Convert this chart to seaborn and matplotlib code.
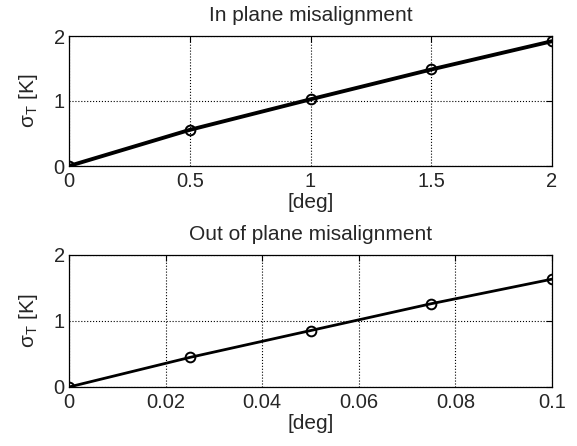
import numpy as np
import pandas as pd
import matplotlib
matplotlib.use("Agg")
import matplotlib.pyplot as plt
import seaborn as sb

# Values
x_in = [0.0, 0.5, 1.0, 1.5, 2.0]
y_in = [0.0, 0.556, 1.026, 1.485, 1.92]
x_out = [0.0, 0.025, 0.05, 0.075, 0.1]
y_out = [0.0, 0.448, 0.855, 1.262, 1.634]

titles = ["In plane misalignment", "Out of plane misalignment"]
xticks_in = [0, 0.5, 1, 1.5, 2]
xticklabels_in = ["0", "0.5", "1", "1.5", "2"]
xticks_out = [0, 0.02, 0.04, 0.06, 0.08, 0.1]
xticklabels_out = ["0", "0.02", "0.04", "0.06", "0.08", "0.1"]
yticks = [0, 1, 2]

sb.set_style("white")
plt.rcParams['font.family'] = ['Liberation Sans', 'DejaVu Sans']
plt.rcParams['mathtext.fontset'] = 'custom'
plt.rcParams['mathtext.rm'] = 'Liberation Sans'
plt.rcParams['mathtext.it'] = 'Liberation Sans'

W, H = 577, 446
fig = plt.figure(figsize=(W/100, H/100), dpi=100)
ax1 = fig.add_axes([69/W, 1 - 166/H, 483/W, 130/H])
ax2 = fig.add_axes([69/W, 1 - 387/H, 483/W, 132/H])

panels = [
    (ax1, x_in, y_in, titles[0], xticks_in, xticklabels_in, (0, 2), 2.8),
    (ax2, x_out, y_out, titles[1], xticks_out, xticklabels_out, (0, 0.1), 2.0),
]

for ax, xs, ys, title, xt, xtl, xlim, lw in panels:
    df = pd.DataFrame({"x": xs, "y": ys})
    sb.lineplot(data=df, x="x", y="y", ax=ax, color="black", linewidth=lw,
                marker="o", markersize=7, markerfacecolor="none",
                markeredgecolor="black", markeredgewidth=1.4)
    ax.set_xlim(*xlim)
    ax.set_ylim(0, 2)
    ax.set_xticks(xt)
    ax.set_xticklabels(xtl)
    ax.set_yticks(yticks)
    ax.set_yticklabels(["0", "1", "2"])
    ax.tick_params(direction="in", length=4, labelsize=14.5, color="black",
                   top=True, right=True)
    ax.tick_params(axis="x", pad=4)
    ax.tick_params(axis="y", pad=3)
    ax.grid(True, color="black", linestyle=":", linewidth=0.8)
    for s in ax.spines.values():
        s.set_color("black")
        s.set_linewidth(0.9)
    ax.set_title(title, fontsize=15, pad=11)
    ax.set_xlabel("[deg]", fontsize=15, labelpad=2)
    ax.set_ylabel(r"$\mathrm{\sigma}_{\mathrm{T}}$ [K]", fontsize=15, labelpad=10)

fig.savefig("out.png", dpi=100)
